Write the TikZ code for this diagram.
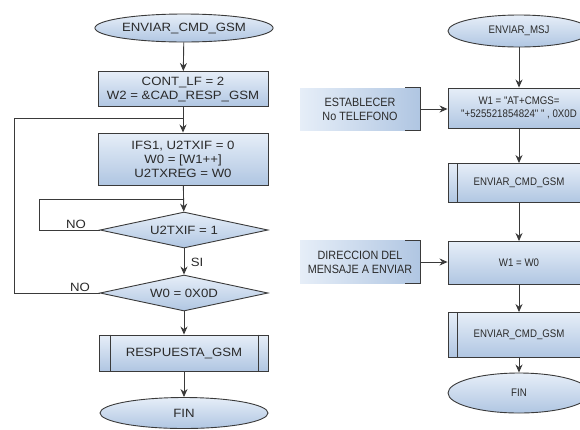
\documentclass[tikz,border=0pt]{standalone}
\usepackage{fontspec}
\setmainfont{Liberation Sans}
\newfontfamily\widefont[FakeStretch=1.1]{Liberation Sans}
\newfontfamily\narrowfont[FakeStretch=0.88]{Liberation Sans}
\newfontfamily\inpfont[FakeStretch=0.9]{Liberation Sans}
\usetikzlibrary{shapes.geometric,arrows.meta}
\definecolor{boxtop}{HTML}{E6EEF8}
\definecolor{boxbot}{HTML}{B0C6E2}
\definecolor{edge}{HTML}{3A3A3A}
\definecolor{txt}{HTML}{2A2A2A}

\begin{document}
\begin{tikzpicture}[x=1pt,y=-1pt,>={Stealth[length=8pt,width=7pt]}]
    \tikzstyle{base}=[draw=edge,line width=0.9pt,top color=boxtop,bottom color=boxbot,align=center,text=txt,inner sep=1pt]
    \tikzstyle{lft}=[font=\widefont\fontsize{12}{14}\selectfont]
    \tikzstyle{rgt}=[font=\narrowfont\fontsize{11}{13}\selectfont]
    \tikzstyle{term}=[base,lft,ellipse,minimum width=172pt,minimum height=28pt]
    \tikzstyle{proc}=[base,lft,rectangle,minimum width=170pt,minimum height=35pt]
    \tikzstyle{cond}=[base,lft,diamond,aspect=4.7,minimum width=168pt,minimum height=36pt,inner sep=0pt]
    \tikzstyle{sub}=[base,lft,rectangle,minimum width=169pt,minimum height=36pt]
    \tikzstyle{term2}=[base,rgt,ellipse,minimum width=142pt,minimum height=32pt]
    \tikzstyle{proc2}=[base,rgt,rectangle,minimum width=142pt,minimum height=40pt]
    \tikzstyle{inp}=[font=\inpfont\fontsize{12}{14}\selectfont,rectangle,left color=boxtop,right color=boxbot,text=txt,align=center,minimum width=120pt,minimum height=42pt]
    \tikzstyle{lbl}=[lft,text=txt,inner sep=1pt]

    \clip (0,0) rectangle (580,429);
    \fill[white] (0,0) rectangle (580,429);

    % enviar_cmd_gsm
    \node[term] (e1) at (184,28) {ENVIAR\_CMD\_GSM};
    \node[proc] (p1) at (183,89) {CONT\_LF = 2\\W2 = \&CAD\_RESP\_GSM};
    \node[proc,minimum height=52pt] (p2) at (183,159) {IFS1, U2TXIF = 0\\W0 = [W1++]\\U2TXREG = W0};
    \node[cond] (d1) at (184,230) {U2TXIF = 1};
    \node[cond] (d2) at (184,293) {W0 = 0X0D};
    \node[sub] (s1) at (184,353) {RESPUESTA\_GSM};
    \node[term,minimum width=168pt,minimum height=31pt] (e2) at (184,413) {FIN};
    \foreach \n in {s1}{
        \draw[edge,line width=0.9pt] ([xshift=11pt]\n.north west) -- ([xshift=11pt]\n.south west);
        \draw[edge,line width=0.9pt] ([xshift=-11pt]\n.north east) -- ([xshift=-11pt]\n.south east);
    }

    \coordinate (j1) at (184,118);
    \coordinate (j2) at (184,199);
    \coordinate (l1) at (39,199);
    \coordinate (l2) at (14,118);

    \foreach \from/\to in {e1/p1, p1/p2, p2/d1, d1/d2, d2/s1, s1/e2}
        \draw[->,edge,line width=0.9pt] (\from) -- (\to);
    \draw[edge,line width=0.9pt] (d1.west) -| (l1) -- (j2);
    \draw[edge,line width=0.9pt] (d2.west) -| (l2) -- (j1);

    \node[lbl] (no1) at (76,224) {NO};
    \node[lbl] (no2) at (80,287) {NO};
    \node[lbl] (si) at (197,262) {SI};

    % enviar_msj
    \node[term2] (e3) at (519,31) {ENVIAR\_MSJ};
    \node[proc2] (p3) at (519,108) {W1 = "AT+CMGS=\\"+525521854824" " , 0X0D};
    \node[proc2,minimum height=39pt] (s2) at (519,183) {ENVIAR\_CMD\_GSM};
    \node[proc2,minimum height=43pt] (p4) at (519,263) {W1 = W0};
    \node[proc2,minimum height=45pt] (s3) at (519,335) {ENVIAR\_CMD\_GSM};
    \node[term2,minimum height=40pt] (e4) at (519,393) {FIN};
    \foreach \n in {s2,s3}
        \draw[edge,line width=0.9pt] ([xshift=10pt]\n.north west) -- ([xshift=10pt]\n.south west);

    \node[inp] (i1) at (360,109) {ESTABLECER\\No TELEFONO};
    \node[inp,minimum height=43pt] (i2) at (360,262) {DIRECCION DEL\\MENSAJE A ENVIAR};
    \foreach \n in {i1,i2}
        \draw[edge,line width=0.9pt] ([xshift=-15pt]\n.north east) -- (\n.north east) -- (\n.south east) -- ([xshift=-15pt]\n.south east);

    \foreach \from/\to in {e3/p3, p3/s2, s2/p4, p4/s3, s3/e4}
        \draw[->,edge,line width=0.9pt] (\from) -- (\to);
    \draw[->,edge,line width=0.9pt] (i1.east) -- (i1.east -| p3.west);
    \draw[->,edge,line width=0.9pt] (i2.east) -- (i2.east -| p4.west);
\end{tikzpicture}
\end{document}
